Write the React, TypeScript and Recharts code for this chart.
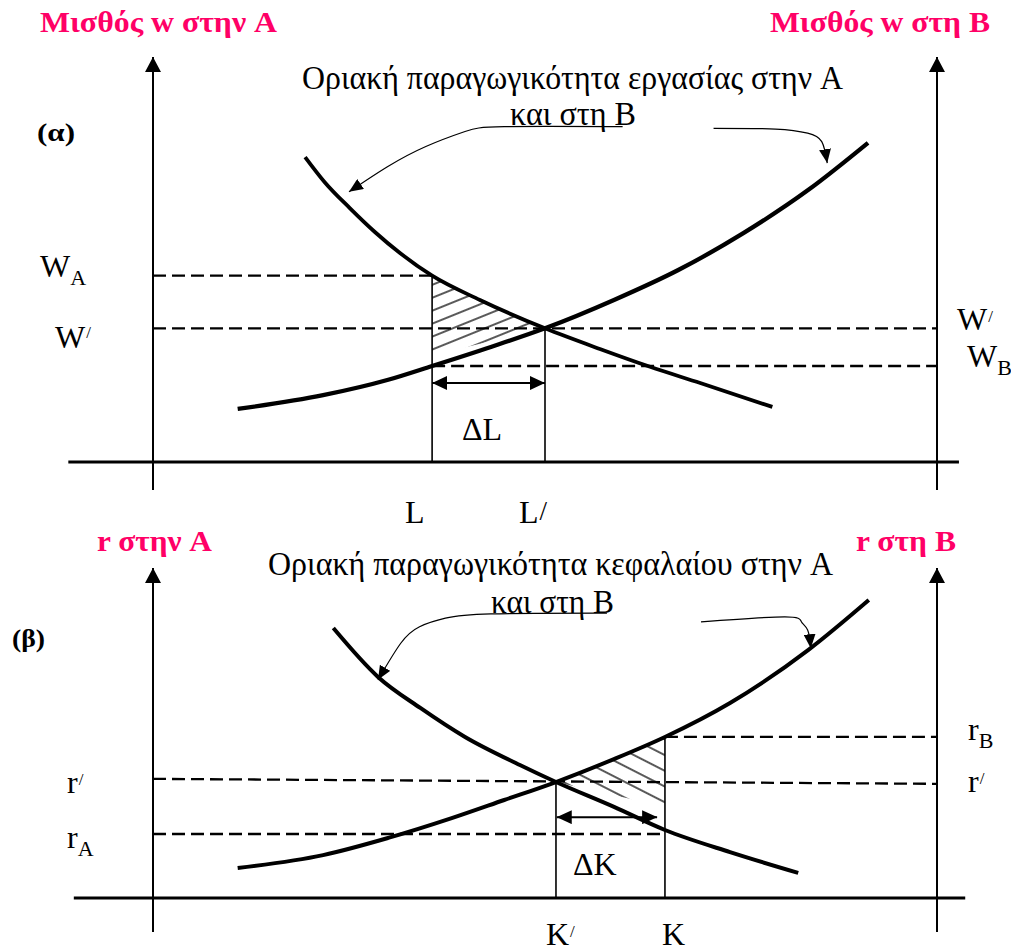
import { ComposedChart, Line, Area, XAxis, YAxis, ReferenceLine } from 'recharts'

const FONT = "'Liberation Serif', 'Times New Roman', serif"
const PINK = '#ff0066'

// Μονάδες: x 0..100 από τον αριστερό ως τον δεξιό άξονα, y 0..100 από τον οριζόντιο άξονα ως την κορυφή του βέλους

// (α) αγορά εργασίας
const mpLaborA_x = [19.4, 21.9, 25.1, 28.3, 31.5, 35.6, 41.7, 50, 57.0, 63.4, 69.8, 79.0]
const mpLaborA_y = [75.3, 69.1, 62.7, 56.8, 51.6, 46.0, 40.0, 33, 27.9, 23.5, 19.5, 13.6]
const mpLaborB_x = [10.8, 21.7, 30.0, 35.6, 43.1, 50, 58.8, 67.0, 75.3, 83.6, 91.2]
const mpLaborB_y = [13.1, 16.5, 20.3, 23.7, 28.4, 33, 40.0, 47.4, 56.5, 67.2, 78.8]
const wA = 46, wEq = 33, wB = 23.7
const L0 = 35.6, L1 = 50
const hatchA_x = [35.6, 38, 41.7, 46, 50]
const hatchA_hi = [46, 43.8, 40.0, 36.5, 33]
const hatchA_lo = [26.4, 27.5, 29.2, 31.2, 33]
const arrowA1_x = [59.9, 44.8, 39.8, 34.8, 29.9, 25.0]
const arrowA1_y = [82.8, 82.8, 81.6, 77.9, 72.9, 66.7]
const arrowA2_x = [71.5, 79.4, 83.5, 85.3, 86.0]
const arrowA2_y = [82.4, 82.2, 81.2, 79.1, 73.8]

// (β) αγορά κεφαλαίου
const mpCapA_x = [23.0, 28.7, 34.1, 39.8, 46.8, 51.4, 58.8, 65.3, 73.6, 82.3]
const mpCapA_y = [81.8, 67.0, 57.6, 48.8, 40.3, 35.15, 27.6, 20.6, 13.9, 7.6]
const mpCapB_x = [10.8, 21.7, 30.0, 38.1, 44.8, 51.4, 58.8, 65.3, 73.6, 83.6, 91.3]
const mpCapB_y = [9.1, 13.0, 18.2, 24.2, 29.7, 35.15, 42.1, 48.8, 59.1, 75.2, 90.3]
const rB = 48.8, rEqL = 36.1, rEqR = 34.6, rA = 19.4
const K1 = 51.4, K0 = 65.3
const hatchB_x = [51.4, 55, 58.8, 62, 65.3]
const hatchB_hi = [35.15, 38.5, 42.1, 45.4, 48.8]
const hatchB_lo = [35.15, 33.2, 31.1, 29.4, 27.6]
const arrowB1_x = [57.9, 43.1, 37.3, 34.0, 31.6, 28.7]
const arrowB1_y = [86.3, 86.1, 84.8, 82.2, 77.2, 66.1]
const arrowB2_x = [69.9, 80.6, 82.7, 83.5, 83.9]
const arrowB2_y = [83.7, 85.2, 83.7, 81.2, 75.7]

const pts = (xs: number[], ys: number[]) => xs.map((x, i) => ({ x, y: ys[i] }))
const band = (xs: number[], lo: number[], hi: number[]) => xs.map((x, i) => ({ x, band: [lo[i], hi[i]] }))

const dash = { stroke: '#000', strokeWidth: 2.3, strokeDasharray: '13 6', ifOverflow: 'visible' as const }
const thin = { stroke: '#000', strokeWidth: 1.6, ifOverflow: 'visible' as const }
const axis = { stroke: '#000', strokeWidth: 2, ifOverflow: 'visible' as const, markerEnd: 'url(#axisHead)' }

function Defs() {
  return (
    <svg width={0} height={0} style={{ position: 'absolute' }}>
      <defs>
        <marker id='axisHead' markerUnits='userSpaceOnUse' markerWidth={16} markerHeight={16}
          refX={15} refY={8} orient='auto'>
          <path d='M0,0 L15,8 L0,16 z' fill='#000' />
        </marker>
        <marker id='dblHead' markerUnits='userSpaceOnUse' markerWidth={15} markerHeight={14}
          refX={15} refY={7} orient='auto-start-reverse'>
          <path d='M0,0 L15,7 L0,14 z' fill='#000' />
        </marker>
        <marker id='noteHead' markerUnits='userSpaceOnUse' markerWidth={14} markerHeight={12}
          refX={14} refY={6} orient='auto'>
          <path d='M0,0 L14,6 L0,12 z' fill='#000' />
        </marker>
        <pattern id='hatchA' patternUnits='userSpaceOnUse' width={20} height={12} patternTransform='rotate(-22)'>
          <line x1={0} y1={6} x2={20} y2={6} stroke='#000' strokeWidth={1.3} />
        </pattern>
        <pattern id='hatchB' patternUnits='userSpaceOnUse' width={20} height={14} patternTransform='rotate(27)'>
          <line x1={0} y1={7} x2={20} y2={7} stroke='#000' strokeWidth={1.3} />
        </pattern>
      </defs>
    </svg>
  )
}

function Sym({ x, y, t, sub, prime, pSize = 17, pDy = -10 }:
  { x: number, y: number, t: string, sub?: string, prime?: boolean, pSize?: number, pDy?: number }) {
  return (
    <text x={x} y={y} fontSize={32} style={{ fontFamily: FONT }} fill='#000'>
      {t}
      {sub && <tspan fontSize={22} dy={8}>{sub}</tspan>}
      {prime && <tspan fontSize={pSize} dx={1} dy={pDy}>/</tspan>}
    </text>
  )
}

function Txt({ x, y, w, size = 33, bold, color = '#000', children }:
  { x: number, y: number, w: number, size?: number, bold?: boolean, color?: string, children: string }) {
  return (
    <text x={x} y={y} fontSize={size} style={{ fontFamily: FONT, fontWeight: bold ? 700 : 400 }} fill={color}
      textLength={w} lengthAdjust='spacingAndGlyphs'>{children}</text>
  )
}

function Texts() {
  return (
    <svg width={1011} height={951} style={{ position: 'absolute', left: 0, top: 0, pointerEvents: 'none' }}>
      <Txt x={40} y={32} w={237} size={30} bold color={PINK}>Μισθός w στην A</Txt>
      <Txt x={770} y={32} w={220} size={30} bold color={PINK}>Μισθός w στη B</Txt>
      <Txt x={97} y={551} w={115} size={30} bold color={PINK}>r στην A</Txt>
      <Txt x={856} y={551} w={100} size={30} bold color={PINK}>r στη B</Txt>
      <Txt x={37} y={141} w={38} size={25} bold>(α)</Txt>
      <Txt x={12} y={647} w={33} size={25} bold>(β)</Txt>
      <Txt x={302} y={89} w={541}>Οριακή παραγωγικότητα εργασίας στην A</Txt>
      <Txt x={510} y={125} w={126}>και στη B</Txt>
      <Txt x={268} y={575} w={565}>Οριακή παραγωγικότητα κεφαλαίου στην A</Txt>
      <Txt x={491} y={613} w={123}>και στη B</Txt>
      <Sym x={40} y={277} t='W' sub='A' />
      <Sym x={55} y={348} t='W' prime />
      <Sym x={957} y={330} t='W' prime pDy={-8} />
      <Sym x={967} y={367} t='W' sub='B' />
      <Sym x={405} y={523} t='L' />
      <Sym x={519} y={523} t='L' prime pSize={27} pDy={-3} />
      <Sym x={462} y={440} t='ΔL' />
      <Sym x={67} y={793} t='r' prime pDy={-8} />
      <Sym x={67} y={848} t='r' sub='A' />
      <Sym x={968} y={740} t='r' sub='B' />
      <Sym x={968} y={792} t='r' prime pDy={-8} />
      <Sym x={573} y={875} t='ΔK' />
      <Sym x={546} y={945} t='K' prime pDy={-8} />
      <Sym x={662} y={945} t='K' />
    </svg>
  )
}

function Axes() {
  return [
    <XAxis key='x' type='number' dataKey='x' domain={[0, 100]} allowDataOverflow hide />,
    <YAxis key='y' type='number' domain={[0, 100]} allowDataOverflow hide />,
  ]
}

const curve = { stroke: '#000', dot: false, activeDot: false, isAnimationActive: false, dataKey: 'y' }
const note = { ...curve, type: 'natural' as const, strokeWidth: 1.2, markerEnd: 'url(#noteHead)' }

function LaborPanel() {
  return (
    <ComposedChart width={1011} height={951} margin={{ top: 57, right: 74, bottom: 489, left: 153 }}
      style={{ position: 'absolute', left: 0, top: 0 }}>
      {Axes()}
      <Area data={band(hatchA_x, hatchA_lo, hatchA_hi)} dataKey='band' type='monotone' stroke='none'
        fill='url(#hatchA)' fillOpacity={1} isAnimationActive={false} activeDot={false} />
      <ReferenceLine segment={[{ x: 0, y: -6.9 }, { x: 0, y: 100 }]} {...axis} />
      <ReferenceLine segment={[{ x: 100, y: -6.9 }, { x: 100, y: 100 }]} {...axis} />
      <ReferenceLine segment={[{ x: -10.8, y: 0 }, { x: 102.8, y: 0 }]} stroke='#000' strokeWidth={3} ifOverflow='visible' />
      <ReferenceLine segment={[{ x: 0, y: wA }, { x: L0, y: wA }]} {...dash} />
      <ReferenceLine segment={[{ x: 0, y: wEq }, { x: 100, y: wEq }]} {...dash} />
      <ReferenceLine segment={[{ x: L0, y: wB }, { x: 100, y: wB }]} {...dash} />
      <ReferenceLine segment={[{ x: L0, y: 0 }, { x: L0, y: wA }]} {...thin} />
      <ReferenceLine segment={[{ x: L1, y: 0 }, { x: L1, y: wEq }]} {...thin} />
      <ReferenceLine segment={[{ x: L0, y: 19.5 }, { x: L1, y: 19.5 }]} stroke='#000' strokeWidth={2}
        ifOverflow='visible' markerStart='url(#dblHead)' markerEnd='url(#dblHead)' />
      <Line data={pts(mpLaborA_x, mpLaborA_y)} type='monotone' strokeWidth={3.8} {...curve} />
      <Line data={pts(mpLaborB_x, mpLaborB_y)} type='monotone' strokeWidth={4.3} {...curve} />
      <Line data={pts(arrowA1_x, arrowA1_y)} {...note} />
      <Line data={pts(arrowA2_x, arrowA2_y)} {...note} />
    </ComposedChart>
  )
}

function CapitalPanel() {
  return (
    <ComposedChart width={1011} height={951} margin={{ top: 568, right: 74, bottom: 53, left: 153 }}
      style={{ position: 'absolute', left: 0, top: 0 }}>
      {Axes()}
      <Area data={band(hatchB_x, hatchB_lo, hatchB_hi)} dataKey='band' type='monotone' stroke='none'
        fill='url(#hatchB)' fillOpacity={1} isAnimationActive={false} activeDot={false} />
      <ReferenceLine segment={[{ x: 0, y: -10.3 }, { x: 0, y: 100 }]} {...axis} />
      <ReferenceLine segment={[{ x: 100, y: -10.3 }, { x: 100, y: 100 }]} {...axis} />
      <ReferenceLine segment={[{ x: -10.1, y: 0 }, { x: 103.6, y: 0 }]} stroke='#000' strokeWidth={3} ifOverflow='visible' />
      <ReferenceLine segment={[{ x: K0, y: rB }, { x: 100, y: rB }]} {...dash} />
      <ReferenceLine segment={[{ x: 0, y: rEqL }, { x: 100, y: rEqR }]} {...dash} />
      <ReferenceLine segment={[{ x: 0, y: rA }, { x: K0, y: rA }]} {...dash} />
      <ReferenceLine segment={[{ x: K1, y: 0 }, { x: K1, y: 35.15 }]} {...thin} />
      <ReferenceLine segment={[{ x: K0, y: 0 }, { x: K0, y: rB }]} {...thin} />
      <ReferenceLine segment={[{ x: 51.5, y: 24.5 }, { x: 64.3, y: 24.5 }]} stroke='#000' strokeWidth={2}
        ifOverflow='visible' markerStart='url(#dblHead)' markerEnd='url(#dblHead)' />
      <Line data={pts(mpCapA_x, mpCapA_y)} type='monotone' strokeWidth={4} {...curve} />
      <Line data={pts(mpCapB_x, mpCapB_y)} type='monotone' strokeWidth={4} {...curve} />
      <Line data={pts(arrowB1_x, arrowB1_y)} {...note} />
      <Line data={pts(arrowB2_x, arrowB2_y)} {...note} />
    </ComposedChart>
  )
}

export default function App() {
  return (
    <div style={{ position: 'absolute', left: 0, top: 0, width: 1011, height: 951, background: '#fff' }}>
      <Defs />
      <LaborPanel />
      <CapitalPanel />
      <Texts />
    </div>
  )
}
